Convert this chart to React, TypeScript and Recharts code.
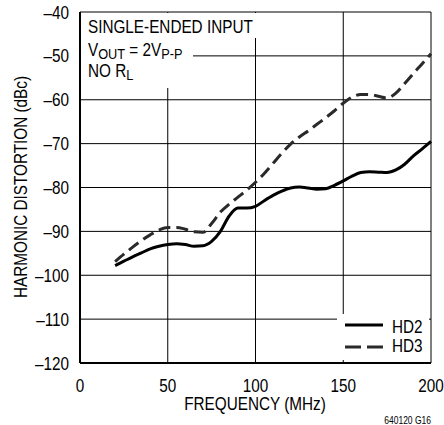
import React from "react";
import { LineChart, Line, XAxis, YAxis, CartesianGrid } from "recharts";

// values (MHz / dBc)
const frequency = [
  20, 25, 30, 35, 40, 45, 50, 55, 60, 65, 70, 75, 80, 85, 90, 95, 100, 105, 110,
  115, 120, 125, 130, 135, 140, 145, 150, 155, 160, 165, 170, 175, 180, 185, 190,
  195, 200,
];
const hd2 = [
  -97.8, -96.8, -95.8, -94.9, -94.0, -93.4, -93.0, -92.8, -93.0, -93.4, -93.3,
  -92.3, -90.0, -86.5, -84.7, -84.7, -84.3, -83.0, -81.8, -80.8, -80.1, -79.9,
  -80.1, -80.4, -80.3, -79.5, -78.5, -77.4, -76.6, -76.4, -76.5, -76.6, -76.0,
  -74.7, -72.8, -71.2, -69.5,
];
const hd3 = [
  -96.9, -95.2, -93.6, -92.1, -90.8, -89.7, -89.1, -89.1, -89.5, -90.1, -90.2,
  -88.2, -85.6, -83.8, -82.2, -80.6, -78.8, -76.8, -74.5, -72.2, -70.1, -68.5,
  -67.1, -65.6, -64.1, -62.5, -60.8, -59.4, -58.8, -58.8, -59.2, -59.6, -58.5,
  -56.3, -54.0, -51.8, -49.5,
];
const xTicks = [0, 50, 100, 150, 200];
const yTicks = [-120, -110, -100, -90, -80, -70, -60, -50, -40];

const data = frequency.map((f, i) => ({ f, hd2: hd2[i], hd3: hd3[i] }));

const FONT = "'Liberation Sans', Arial, sans-serif";
const SQUEEZE = 0.85; // fake a condensed face
const fmt = (v: number) => (v < 0 ? `\u2013${Math.abs(v)}` : `${v}`);

// narrow text: horizontally squeezed Liberation Sans
const NText = ({ x, y, anchor = "start", size = 18, rotate = 0, children }: any) => (
  <text
    transform={`translate(${x},${y}) rotate(${rotate}) scale(${SQUEEZE},1)`}
    textAnchor={anchor}
    fontSize={size}
    fontFamily={FONT}
    fill="#000"
  >
    {children}
  </text>
);

const XTick = (props: any) => {
  const { x, y, payload } = props;
  return <NText x={x} y={y + 28.5} anchor="middle">{payload.value}</NText>;
};

const YTick = (props: any) => {
  const { x, y, payload } = props;
  return <NText x={x - 11} y={y + 6.5} anchor="end">{fmt(payload.value)}</NText>;
};

export default function App() {
  return (
    <div style={{ position: "absolute", left: 0, top: 0, width: 444, height: 425, background: "#fff" }}>
      <LineChart
        width={444}
        height={425}
        data={data}
        margin={{ top: 12, right: 13, left: 0, bottom: 0 }}
      >
        <CartesianGrid stroke="#000" strokeWidth={1} />
        <XAxis
          dataKey="f"
          type="number"
          domain={[0, 200]}
          ticks={xTicks}
          height={62}
          tickSize={0}
          tickMargin={0}
          tickLine={false}
          axisLine={{ stroke: "#000", strokeWidth: 2 }}
          tick={<XTick />}
          interval={0}
        />
        <YAxis
          type="number"
          domain={[-120, -40]}
          ticks={yTicks}
          width={80}
          tickSize={0}
          tickMargin={0}
          tickLine={false}
          axisLine={{ stroke: "#000", strokeWidth: 2 }}
          tick={<YTick />}
          interval={0}
        />
        <Line
          type="monotone"
          dataKey="hd2"
          stroke="#000"
          strokeWidth={3}
          dot={false}
          isAnimationActive={false}
        />
        <Line
          type="monotone"
          dataKey="hd3"
          stroke="#2a2a2a"
          strokeWidth={3}
          strokeDasharray="12 6"
          dot={false}
          isAnimationActive={false}
        />
      </LineChart>

      {/* annotations, legend and axis titles */}
      <svg
        width={444}
        height={425}
        style={{ position: "absolute", left: 0, top: 0, pointerEvents: "none" }}
      >
        <rect x={81} y={13} width={176} height={25} fill="#fff" />
        <rect x={81} y={38} width={112} height={24} fill="#fff" />
        <rect x={81} y={62} width={88} height={26} fill="#fff" />
        <NText x={88} y={33}>SINGLE-ENDED INPUT</NText>
        <NText x={88} y={56}>
          V<tspan fontSize={15} dy={3}>OUT</tspan>
          <tspan dy={-3}> = 2V</tspan>
          <tspan fontSize={15} dy={3}>P-P</tspan>
        </NText>
        <NText x={88} y={77}>
          NO R<tspan fontSize={15} dy={3}>L</tspan>
        </NText>

        <rect x={337} y={314} width={92} height={46} fill="#fff" />
        <line x1={345} x2={383} y1={325} y2={325} stroke="#000" strokeWidth={3} />
        <NText x={392} y={333}>HD2</NText>
        <line x1={345} x2={383} y1={347} y2={347} stroke="#2a2a2a" strokeWidth={3} strokeDasharray="16 6" />
        <NText x={392} y={352}>HD3</NText>

        <NText x={255} y={410} anchor="middle">FREQUENCY (MHz)</NText>
        <NText x={27} y={187} anchor="middle" rotate={-90}>
          HARMONIC DISTORTION (dBc)
        </NText>
        <NText x={431} y={424} anchor="end" size={10}>640120 G16</NText>
      </svg>
    </div>
  );
}
